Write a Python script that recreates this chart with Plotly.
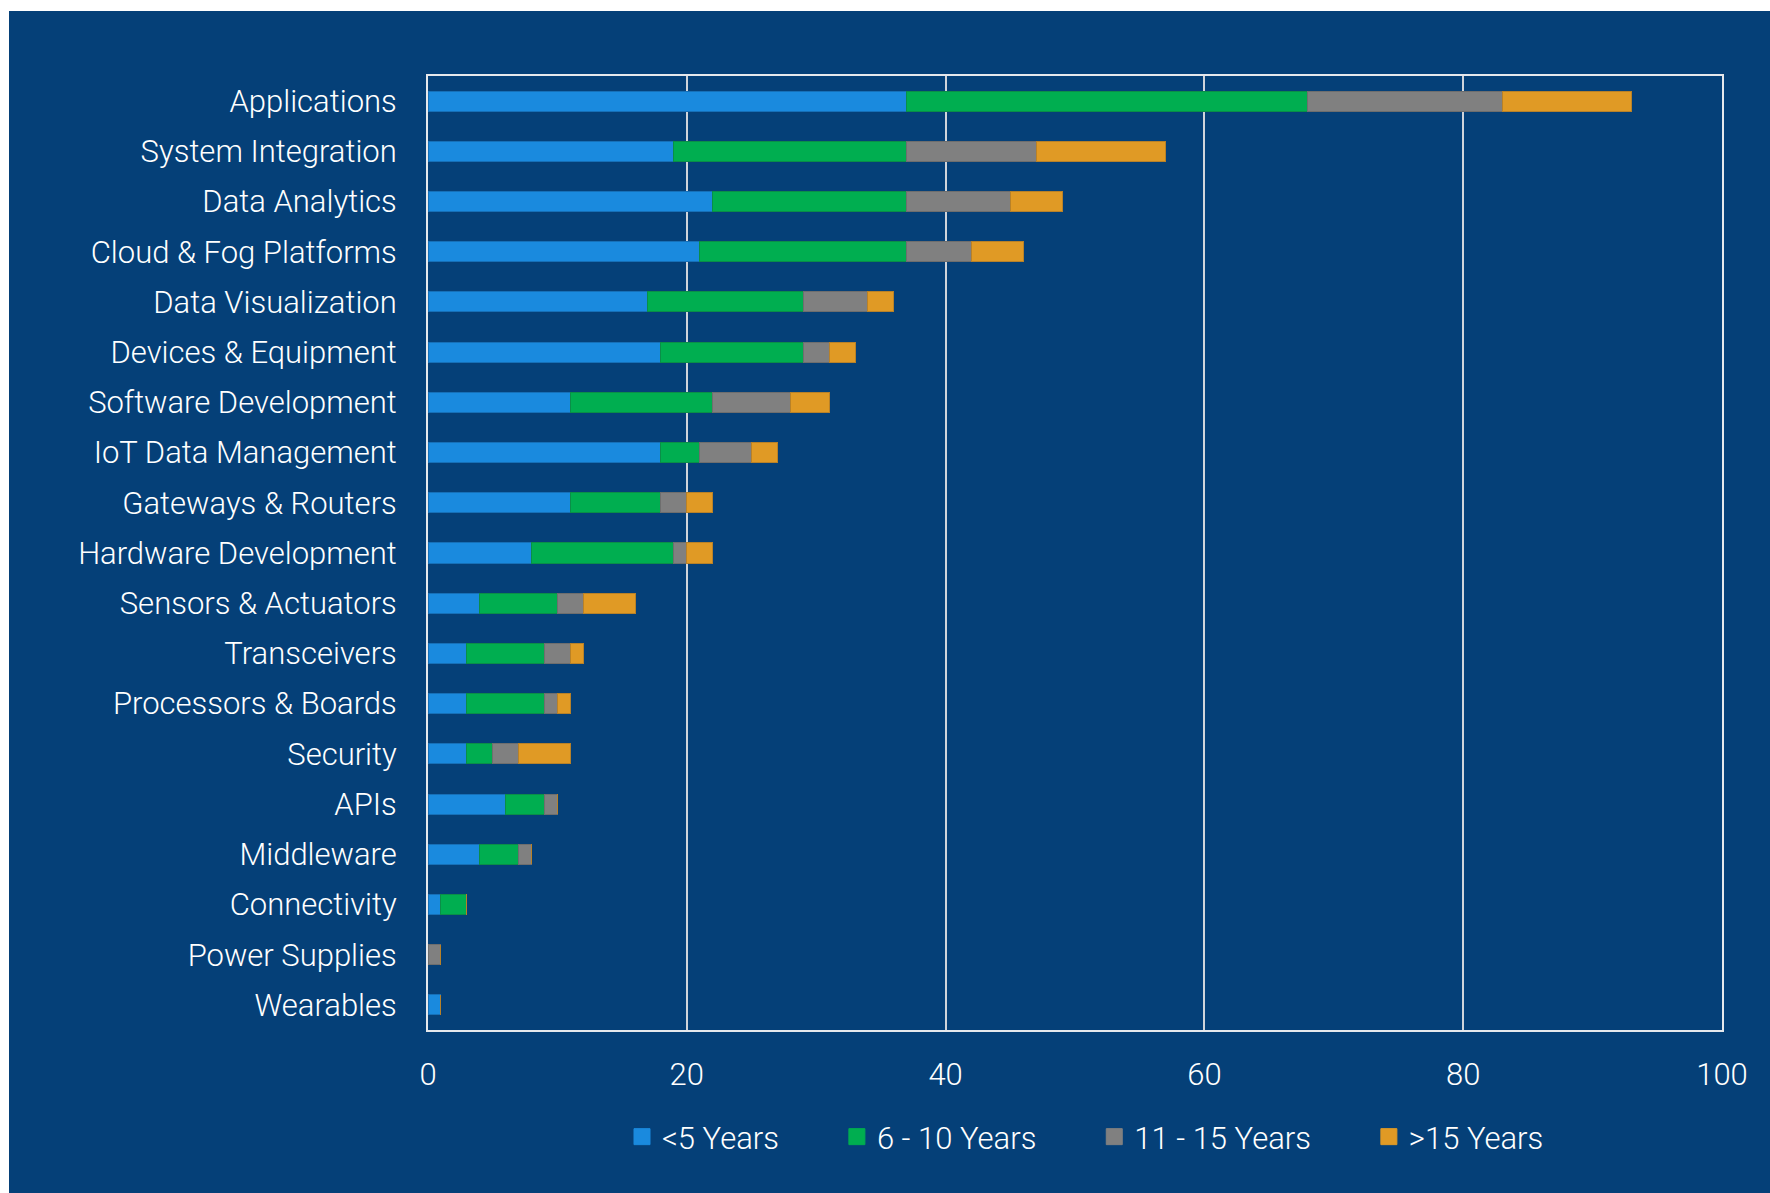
import plotly.graph_objects as go

categories = [
    "Applications", "System Integration", "Data Analytics", "Cloud & Fog Platforms",
    "Data Visualization", "Devices & Equipment", "Software Development",
    "IoT Data Management", "Gateways & Routers", "Hardware Development",
    "Sensors & Actuators", "Transceivers", "Processors & Boards", "Security",
    "APIs", "Middleware", "Connectivity", "Power Supplies", "Wearables",
]
under5 = [37, 19, 22, 21, 17, 18, 11, 18, 11, 8, 4, 3, 3, 3, 6, 4, 1, 0, 1]
y6_10 = [31, 18, 15, 16, 12, 11, 11, 3, 7, 11, 6, 6, 6, 2, 3, 3, 2, 0, 0]
y11_15 = [15, 10, 8, 5, 5, 2, 6, 4, 2, 1, 2, 2, 1, 2, 1, 1, 0, 1, 0]
over15 = [10, 10, 4, 4, 2, 2, 3, 2, 2, 2, 4, 1, 1, 4, 0, 0, 0, 0, 0]
series_names = ["<5 Years", "6 - 10 Years", "11 - 15 Years", ">15 Years"]
x_ticks = [0, 20, 40, 60, 80, 100]

colors = ["#1A8ADE", "#00AE50", "#808080", "#E09A25"]
edge = ["#1670B8", "#0A8E48", "#6E6E6E", "#B88128"]
BG = "#054078"
FONT = "'Roboto Light', Roboto, 'Liberation Sans', Arial, sans-serif"
PAD = "\u00a0" * 7

fig = go.Figure()
for name, vals, c, e in zip(series_names, [under5, y6_10, y11_15, over15], colors, edge):
    fig.add_trace(go.Bar(
        y=categories, x=vals, name=name, orientation="h", showlegend=False,
        marker=dict(color=c, line=dict(color=e, width=1)),
    ))
# legend entries (square swatches)
for i, (name, c) in enumerate(zip(series_names, colors)):
    fig.add_trace(go.Scatter(
        x=[None], y=[None], mode="markers", name=name + (PAD if i < 3 else ""),
        marker=dict(symbol="square", size=16, color=c, line=dict(width=1, color=c)),
        hoverinfo="skip",
    ))

W, H = 1770, 1193
L, R, T, B = 428, 1722, 76, 1030
pw, ph = R - L, B - T

fig.update_layout(
    width=W, height=H,
    barmode="stack", bargap=0.6,
    paper_bgcolor="white", plot_bgcolor="rgba(0,0,0,0)",
    margin=dict(l=L, r=W - R, t=T, b=H - B, pad=0),
    font=dict(family=FONT, color="white", size=31, weight=300),
    shapes=[dict(
        type="rect", xref="paper", yref="paper", layer="below",
        x0=(9 - L) / pw, x1=(W - L) / pw, y0=(B - H) / ph, y1=(B - 11) / ph,
        fillcolor=BG, line=dict(width=0),
    )],
    xaxis=dict(
        range=[0, 100], tickvals=x_ticks, showgrid=True, gridcolor="#D0D4DA", gridwidth=2,
        showline=True, linecolor="#E6E8EC", linewidth=2, mirror=True,
        zeroline=False, ticks="", ticklabelstandoff=16,
        tickfont=dict(size=31, color="white", family=FONT, weight=300),
    ),
    yaxis=dict(
        categoryorder="array", categoryarray=categories[::-1],
        showline=True, linecolor="#E6E8EC", linewidth=2, mirror=True,
        showgrid=False, ticks="", ticklabelstandoff=23,
        tickfont=dict(size=31, color="white", family=FONT, weight=300),
    ),
    legend=dict(
        orientation="h", x=(622 - L) / pw, xanchor="left", y=(B - 1137) / ph, yanchor="middle",
        font=dict(size=31, color="white", family=FONT, weight=300),
        bgcolor="rgba(0,0,0,0)", traceorder="normal", itemsizing="trace",
    ),
)

fig.write_html("out.html")
